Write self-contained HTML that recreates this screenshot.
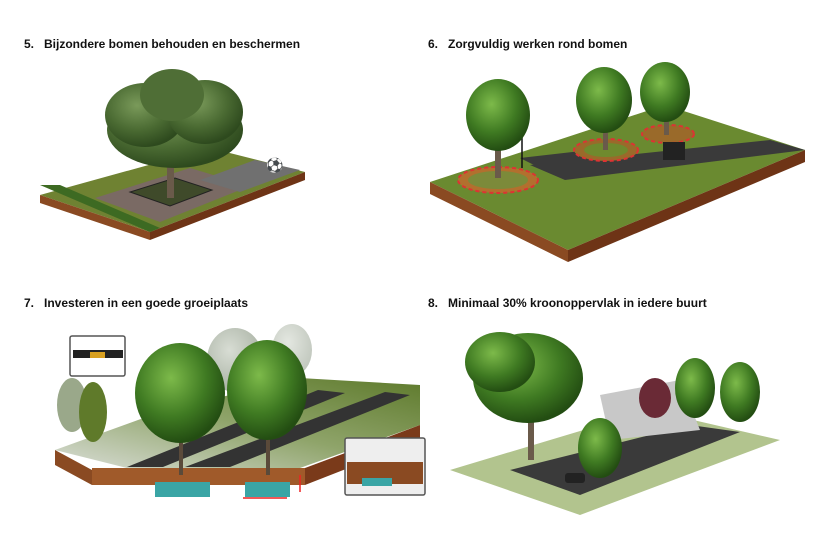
<!DOCTYPE html>
<html><head><meta charset="utf-8"><style>
html,body{margin:0;padding:0;background:#fff;}
body{width:814px;height:541px;overflow:hidden;position:relative;font-family:"Liberation Sans",Arial,sans-serif;}
.t{position:absolute;font-size:12px;font-weight:bold;color:#111;white-space:nowrap;}
svg{position:absolute;left:0;top:0;}
</style></head><body>
<svg width="814" height="541" viewBox="0 0 814 541">
<defs>
<radialGradient id="tr" cx="40%" cy="35%" r="65%"><stop offset="0" stop-color="#7dba4a"/><stop offset="0.6" stop-color="#3f7a22"/><stop offset="1" stop-color="#234d12"/></radialGradient>
<radialGradient id="tr2" cx="40%" cy="35%" r="65%"><stop offset="0" stop-color="#7a9a5a"/><stop offset="0.6" stop-color="#4a6a32"/><stop offset="1" stop-color="#2e4a1e"/></radialGradient>
<radialGradient id="trf" cx="40%" cy="35%" r="65%"><stop offset="0" stop-color="#d8ddd4"/><stop offset="1" stop-color="#a9b2a4"/></radialGradient>
<linearGradient id="gr3" x1="0" y1="1" x2="1" y2="0"><stop offset="0" stop-color="#d9ddd6"/><stop offset="0.5" stop-color="#8fa46a"/><stop offset="1" stop-color="#5e7a2c"/></linearGradient>
</defs>

<!-- Panel 5 -->
<polygon points="40,195 150,232 305,172 210,148" fill="#6f8232"/>
<polygon points="40,195 150,232 150,240 40,203" fill="#8a4a22"/>
<polygon points="150,232 305,172 305,180 150,240" fill="#6e3416"/>
<polygon points="40,185 150,232 160,228 60,185" fill="#3d6a22"/>
<polygon points="95,198 160,222 250,186 190,168" fill="#7a6a64"/>
<polygon points="130,192 170,206 212,190 175,178" fill="#3f4a2a" stroke="#222" stroke-width="1"/>
<polygon points="200,180 240,192 300,170 255,160" fill="#707070"/>
<rect x="167" y="135" width="7" height="63" fill="#6a5a4a"/>
<ellipse cx="175" cy="130" rx="68" ry="38" fill="url(#tr2)"/>
<ellipse cx="145" cy="115" rx="40" ry="32" fill="url(#tr2)"/>
<ellipse cx="205" cy="112" rx="38" ry="32" fill="url(#tr2)"/>
<ellipse cx="172" cy="95" rx="32" ry="26" fill="#4f6e36"/>
<text x="266" y="170" font-size="14" fill="#111">⚽</text>

<!-- Panel 6 -->
<polygon points="430,182 568,250 805,150 665,105" fill="#6a8a30"/>
<polygon points="430,182 568,250 568,262 430,194" fill="#8a4a22"/>
<polygon points="568,250 805,150 805,162 568,262" fill="#6e3416"/>
<polygon points="530,165 565,180 805,150 770,140" fill="#3a3a3a"/>
<polygon points="520,158 590,150 620,160 540,168" fill="#3a3a3a"/>
<ellipse cx="498" cy="180" rx="40" ry="13" fill="#b2702e" stroke="#d33" stroke-width="2" stroke-dasharray="4 3"/>
<ellipse cx="498" cy="180" rx="30" ry="9" fill="#7c8a3a"/>
<ellipse cx="606" cy="150" rx="32" ry="11" fill="#9a6a2a" stroke="#d33" stroke-width="2" stroke-dasharray="4 3"/>
<ellipse cx="606" cy="150" rx="22" ry="7" fill="#6f8a2e"/>
<ellipse cx="668" cy="134" rx="26" ry="9" fill="#9a6a2a" stroke="#d33" stroke-width="2" stroke-dasharray="4 3"/>
<line x1="522" y1="120" x2="522" y2="168" stroke="#111" stroke-width="1.5"/>
<rect x="663" y="142" width="22" height="18" fill="#222"/>
<rect x="495" y="128" width="6" height="50" fill="#6a5a4a"/>
<ellipse cx="498" cy="115" rx="32" ry="36" fill="url(#tr)"/>
<rect x="603" y="100" width="5" height="50" fill="#6a5a4a"/>
<ellipse cx="604" cy="100" rx="28" ry="33" fill="url(#tr)"/>
<rect x="664" y="95" width="5" height="40" fill="#6a5a4a"/>
<ellipse cx="665" cy="92" rx="25" ry="30" fill="url(#tr)"/>

<!-- Panel 7 -->
<polygon points="55,450 127,468 300,468 420,425 420,385 300,378 160,412" fill="url(#gr3)"/>
<polygon points="127,467 163,467 345,393 318,390" fill="#333"/>
<polygon points="185,467 230,467 410,395 385,392" fill="#333"/>
<polygon points="55,450 92,470 92,485 55,465" fill="#8a4a22"/>
<polygon points="92,468 305,468 305,485 92,485" fill="#a05a2a"/>
<polygon points="305,468 420,425 420,440 305,485" fill="#7a3a1a"/>
<rect x="155" y="482" width="55" height="15" fill="#3aa5a5"/>
<rect x="245" y="482" width="45" height="15" fill="#3aa5a5"/>
<line x1="243" y1="498" x2="287" y2="498" stroke="#e22" stroke-width="1.5"/>
<line x1="300" y1="475" x2="300" y2="492" stroke="#e22" stroke-width="1.5"/>
<rect x="70" y="336" width="55" height="40" fill="#fff" stroke="#555" stroke-width="1.5" rx="2"/>
<rect x="73" y="350" width="50" height="8" fill="#222"/>
<rect x="90" y="352" width="15" height="6" fill="#d8a020"/>
<rect x="345" y="438" width="80" height="57" fill="#eee" stroke="#555" stroke-width="1.5" rx="2"/>
<rect x="347" y="462" width="76" height="22" fill="#8a4a22"/>
<rect x="362" y="478" width="30" height="8" fill="#3aa5a5"/>
<ellipse cx="235" cy="360" rx="28" ry="32" fill="url(#trf)"/>
<ellipse cx="292" cy="350" rx="20" ry="26" fill="url(#trf)" opacity="0.7"/>
<ellipse cx="72" cy="405" rx="15" ry="27" fill="#9aa88a"/>
<ellipse cx="93" cy="412" rx="14" ry="30" fill="#5f7a2a"/>
<rect x="179" y="420" width="4" height="55" fill="#5a4a3a"/>
<ellipse cx="180" cy="393" rx="45" ry="50" fill="url(#tr)"/>
<rect x="266" y="420" width="4" height="55" fill="#5a4a3a"/>
<ellipse cx="267" cy="390" rx="40" ry="50" fill="url(#tr)"/>

<!-- Panel 8 -->
<polygon points="450,470 580,515 780,440 650,410" fill="#b2c48e"/>
<polygon points="510,470 580,495 740,432 690,425" fill="#3a3a3a"/>
<polygon points="600,395 680,380 700,430 610,440" fill="#c8c8c8"/>
<rect x="565" y="473" width="20" height="10" fill="#222" rx="3"/>
<rect x="528" y="390" width="6" height="70" fill="#6a5a4a"/>
<ellipse cx="528" cy="378" rx="55" ry="45" fill="url(#tr)"/>
<ellipse cx="500" cy="362" rx="35" ry="30" fill="url(#tr)"/>
<ellipse cx="600" cy="448" rx="22" ry="30" fill="url(#tr)"/>
<ellipse cx="655" cy="398" rx="16" ry="20" fill="#6a2a36"/>
<ellipse cx="695" cy="388" rx="20" ry="30" fill="url(#tr)"/>
<ellipse cx="740" cy="392" rx="20" ry="30" fill="url(#tr)"/>
</svg>
<div class="t" style="left:24px;top:37px">5.&nbsp;&nbsp; Bijzondere bomen behouden en beschermen</div>
<div class="t" style="left:428px;top:37px">6.&nbsp;&nbsp; Zorgvuldig werken rond bomen</div>
<div class="t" style="left:24px;top:296px">7.&nbsp;&nbsp; Investeren in een goede groeiplaats</div>
<div class="t" style="left:428px;top:296px">8.&nbsp;&nbsp; Minimaal 30% kroonoppervlak in iedere buurt</div>
</body></html>
